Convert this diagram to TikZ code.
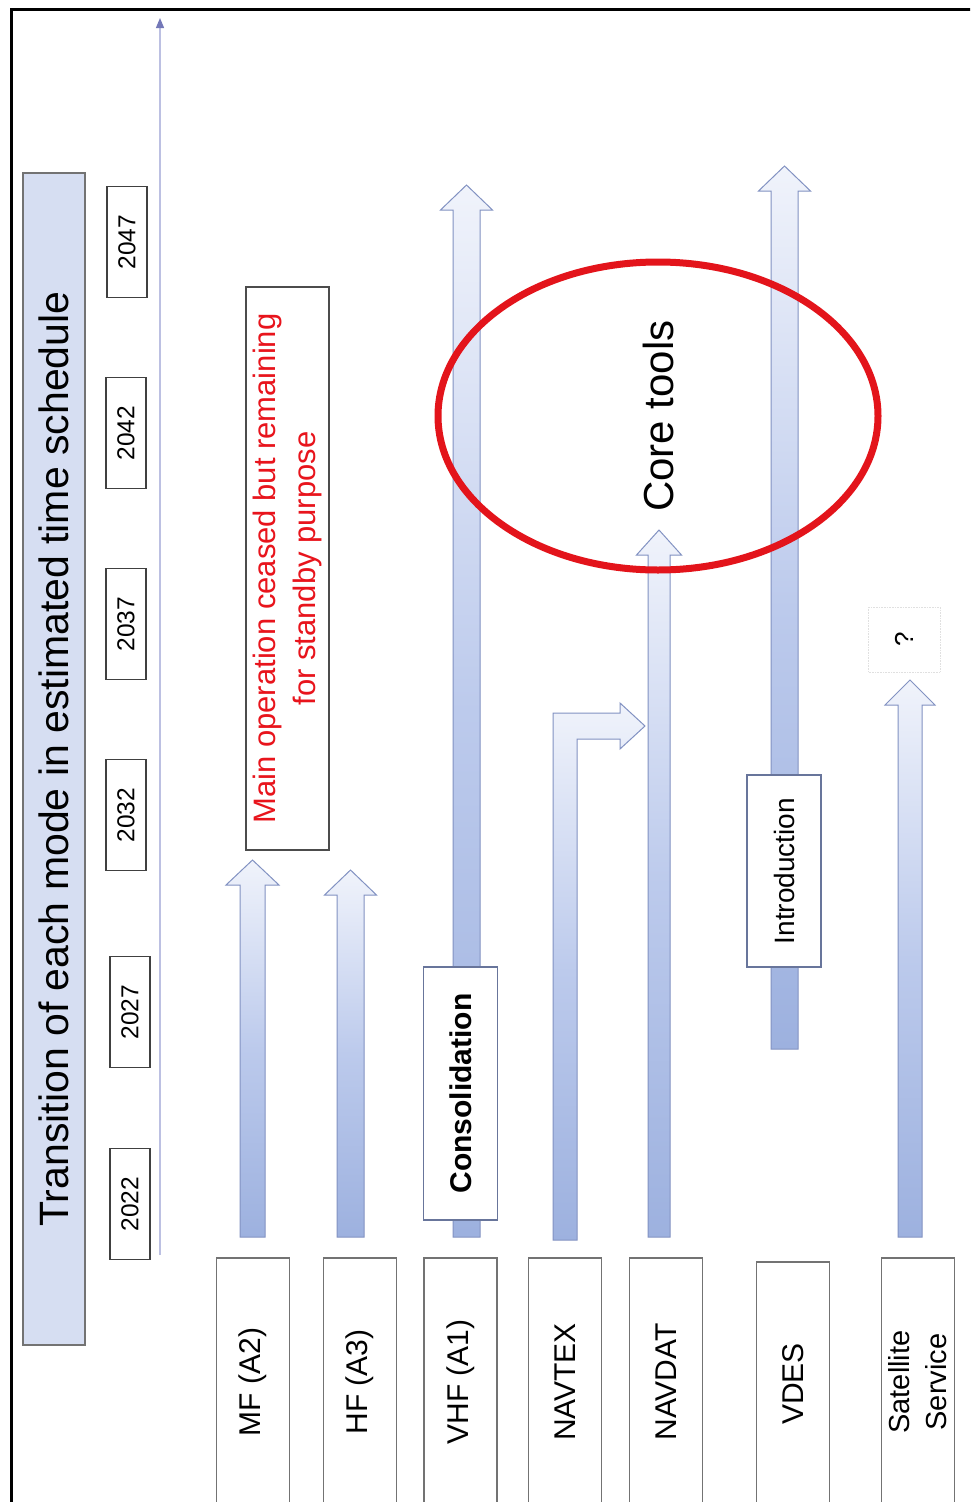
\documentclass[tikz,border=0pt]{standalone}
\usepackage{fontspec}
\setmainfont{Liberation Sans}
\usetikzlibrary{arrows.meta,shapes.geometric}
\definecolor{titlefill}{HTML}{D6DEF2}
\definecolor{arrowtop}{HTML}{F0F3FB}
\definecolor{arrowmid}{HTML}{BCCAEC}
\definecolor{arrowbot}{HTML}{9DB1DF}
\definecolor{arrowline}{HTML}{8292C2}
\definecolor{axisline}{HTML}{BCC0E2}
\definecolor{axistip}{HTML}{7478B8}
\definecolor{ringred}{HTML}{E3141B}
\definecolor{textred}{HTML}{E8141C}
\newcommand\blockup[5]{% x centre, bottom y, tip y, shaft half, head half
  \path[arrowstyle] (#1-#4,#2) -- (#1-#4,#3+25) -- (#1-#5,#3+25) -- (#1,#3)
    -- (#1+#5,#3+25) -- (#1+#4,#3+25) -- (#1+#4,#2) -- cycle;}
\begin{document}
\begin{tikzpicture}[x=1pt,y=-1pt,
  titlebox/.style={draw=black!55, line width=1.2pt, fill=titlefill, rotate=90,
    minimum width=1172pt, minimum height=62pt, inner sep=0pt,
    font=\fontsize{41}{45}\selectfont},
  yearbox/.style={draw=black!75, line width=1.5pt, fill=white, rotate=90,
    minimum width=111pt, minimum height=40pt, inner sep=0pt,
    font=\fontsize{24.5}{28}\selectfont},
  modebox/.style={draw=black!55, line width=1.2pt, fill=white, rotate=90,
    minimum width=248pt, minimum height=73pt, inner sep=0pt, align=center,
    font=\fontsize{30}{36}\selectfont},
  tagbox/.style={draw=arrowline!80!black, line width=1.2pt, fill=white, rotate=90,
    minimum height=74pt, inner sep=0pt},
  arrowstyle/.style={draw=arrowline, line width=1pt, top color=arrowtop,
    bottom color=arrowbot, middle color=arrowmid},
  axisstyle/.style={draw=axisline, line width=1.2pt,
    -{Triangle[length=10pt,width=8pt,color=axistip]}}
]
\useasboundingbox (0,0) rectangle (970,1502);
\clip (0,0) rectangle (970,1502);
\fill[white] (0,0) rectangle (970,1502);
\draw[line width=3pt] (11,9) rectangle (990,1530);

% title
\node[titlebox] (title) at (54,759) {Transition of each mode in estimated time schedule};

% years
\node[yearbox] (y2047) at (127,242) {2047};
\node[yearbox] (y2042) at (126,433) {2042};
\node[yearbox] (y2037) at (126,624) {2037};
\node[yearbox] (y2032) at (126,815) {2032};
\node[yearbox] (y2027) at (130,1012) {2027};
\node[yearbox] (y2022) at (130,1204) {2022};

% time axis
\coordinate (axS) at (160,1255);
\coordinate (axE) at (160,18);
\draw[axisstyle] (axS) -- (axE);

% arrows
\blockup{252.5}{1237}{860}{12.5}{26.5}
\blockup{350.5}{1237}{870}{13.5}{26}
\blockup{466.5}{1237}{185}{13.5}{26}
\path[arrowstyle] (553,1240) -- (553,713) -- (620,713) -- (620,703) -- (645,726)
  -- (620,749) -- (620,739) -- (577,739) -- (577,1240) -- cycle;
\blockup{659}{1237}{530}{11}{22.5}
\blockup{784.5}{1049}{166}{13.5}{26}
\blockup{910}{1237}{680}{12}{25}

% labels on arrows
\node[tagbox, minimum width=253pt, font=\fontsize{30}{36}\selectfont\bfseries]
  (consol) at (460.5,1093.5) {Consolidation};
\node[tagbox, minimum width=192pt, font=\fontsize{28}{32}\selectfont]
  (intro) at (784,871) {Introduction};
\node[draw=black!70, line width=1.2pt, fill=white, rotate=90, minimum width=563pt,
  minimum height=83pt, inner sep=0pt, align=center, text=textred,
  font=\fontsize{31}{40}\selectfont] (standby) at (287.5,568.5)
  {Main operation ceased but remaining\\for standby purpose};
\node[draw=black!12, densely dotted, line width=0.6pt, fill=white, rotate=90,
  minimum width=65pt, minimum height=72pt, inner sep=0pt,
  font=\fontsize{26}{30}\selectfont] (unknown) at (904,639.5) {?};

% modes
\node[modebox] (mf) at (253,1382) {MF (A2)};
\node[modebox] (hf) at (360,1382) {HF (A3)};
\node[modebox] (vhf) at (460.5,1382) {VHF (A1)};
\node[modebox] (navtex) at (565,1382) {NAVTEX};
\node[modebox] (navdat) at (666,1382) {NAVDAT};
\node[modebox, minimum width=244pt] (vdes) at (793,1384) {VDES};
\node[modebox, font=\fontsize{29}{37}\selectfont] (sat) at (918,1382) {Satellite\\Service};

% core tools ring
\node[ellipse, draw=ringred, line width=7pt, rotate=90, minimum width=308pt,
  minimum height=440pt, inner sep=0pt, font=\fontsize{42}{46}\selectfont]
  (core) at (658,416) {Core tools};
\end{tikzpicture}
\end{document}
